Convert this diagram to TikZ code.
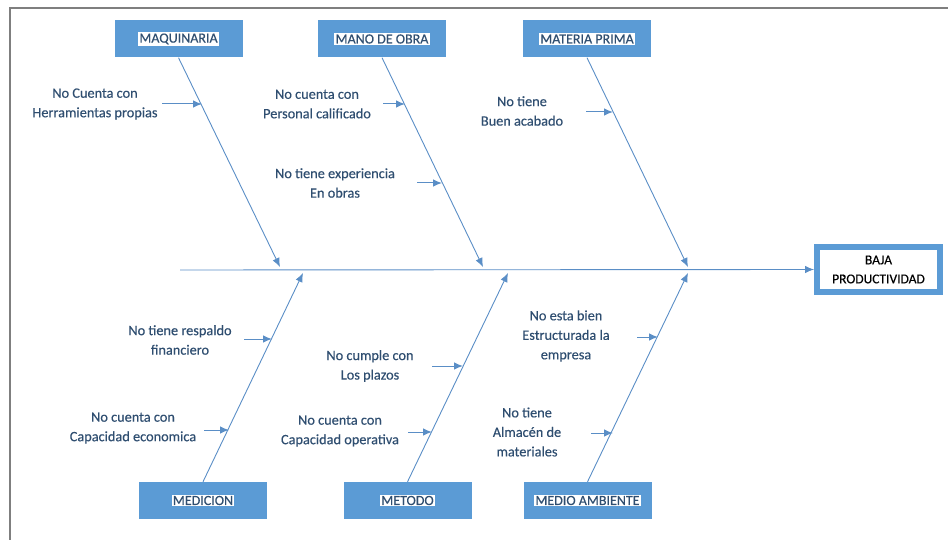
\documentclass[tikz,border=0pt]{standalone}
\usepackage{fontspec}
\setmainfont{Carlito}
\newfontfamily\labfont{Carlito}[FakeBold=0.35]
\usetikzlibrary{arrows.meta}
\definecolor{boxblue}{HTML}{5B9BD5}
\definecolor{lineblue}{HTML}{5A8EC6}
\definecolor{labtext}{HTML}{2F4E70}
\definecolor{framegray}{HTML}{7F7F7F}
\newcommand{\hlt}[1]{{\setlength{\fboxsep}{1.2pt}\colorbox{white}{#1}}}
\begin{document}
\begin{tikzpicture}[x=1pt,y=-1pt,
  cat/.style={fill=boxblue, minimum width=128pt, minimum height=37pt, inner sep=0pt,
    font=\labfont\fontsize{14}{16}\selectfont, text=labtext},
  effect/.style={draw=boxblue, line width=6pt, fill=white, minimum width=123pt,
    minimum height=45pt, inner sep=0pt, align=center, text=black,
    font=\labfont\fontsize{13.5}{19}\selectfont},
  lab/.style={align=center, text=labtext, inner sep=0pt, font=\labfont\fontsize{14.3}{19.5}\selectfont},
  bone/.style={draw=lineblue, line width=0.9pt, -{Latex[length=9pt,width=7.5pt]}},
  sub/.style={draw=lineblue, line width=1pt, -{Latex[length=9pt,width=7.5pt]}}
]
\useasboundingbox (0,0) rectangle (948,540);
% frame
\draw[framegray, line width=1.5pt] (10,540) -- (10,8) -- (948,8);

% category boxes
\node[cat] (maq)  at (178.5,39)  {\hlt{MAQUINARIA}};
\node[cat] (mano) at (382,39)    {\hlt{MANO DE OBRA}};
\node[cat] (mat)  at (587,39)    {\hlt{MATERIA PRIMA}};
\node[cat] (med)  at (203,500.5) {\hlt{MEDICION}};
\node[cat] (met)  at (407.5,500.5) {\hlt{METODO}};
\node[cat] (amb)  at (587.5,500.5) {\hlt{MEDIO AMBIENTE}};

% effect
\node[effect] (eff) at (878.5,269.5) {BAJA\\PRODUCTIVIDAD};

% spine
\coordinate (sp) at (180,270);
\draw[bone] (sp) -- (eff.west);

% bone ends
\coordinate (e1) at (280,267);
\coordinate (e2) at (483,267);
\coordinate (e3) at (688,267);
\coordinate (e4) at (303,273);
\coordinate (e5) at (508,273);
\coordinate (e6) at (688,273);
\draw[bone] (maq.south) -- (e1);
\draw[bone] (mano.south) -- (e2);
\draw[bone] (mat.south) -- (e3);
\draw[bone] (med.north) -- (e4);
\draw[bone] (met.north) -- (e5);
\draw[bone] (amb.north) -- (e6);

% cause labels
\node[lab] (l1)  at (95,104)  {No Cuenta con\\Herramientas propias};
\node[lab] (l2)  at (317,104) {No cuenta con\\Personal calificado};
\node[lab] (l3)  at (335,183) {No tiene experiencia\\En obras};
\node[lab] (l4)  at (522,111) {No tiene\\Buen acabado};
\node[lab] (l5)  at (180,340) {No tiene respaldo\\financiero};
\node[lab] (l6)  at (133,428) {No cuenta con\\Capacidad economica};
\node[lab] (l7)  at (370,366) {No cumple con\\Los plazos};
\node[lab] (l8)  at (340,431) {No cuenta con\\Capacidad operativa};
\node[lab] (l9)  at (566,336) {No esta bien\\Estructurada la\\empresa};
\node[lab] (l10) at (527,432) {No tiene\\Almacén de\\materiales};

% cause arrows
\coordinate (s1) at (162,104);  \coordinate (t1) at (202,104);
\coordinate (s2) at (383,104);  \coordinate (t2) at (405,104);
\coordinate (s3) at (417,183);  \coordinate (t3) at (442,183);
\coordinate (s4) at (586,112);  \coordinate (t4) at (613,112);
\coordinate (s5) at (244,339);  \coordinate (t5) at (272,339);
\coordinate (s6) at (204,430);  \coordinate (t6) at (229,430);
\coordinate (s7) at (432,366);  \coordinate (t7) at (463,366);
\coordinate (s8) at (408,432);  \coordinate (t8) at (432,432);
\coordinate (s9) at (637,337);  \coordinate (t9) at (658,337);
\coordinate (s10) at (591,433); \coordinate (t10) at (613,433);
\foreach \i in {1,...,10} { \draw[sub] (s\i) -- (t\i); }
\end{tikzpicture}
\end{document}
